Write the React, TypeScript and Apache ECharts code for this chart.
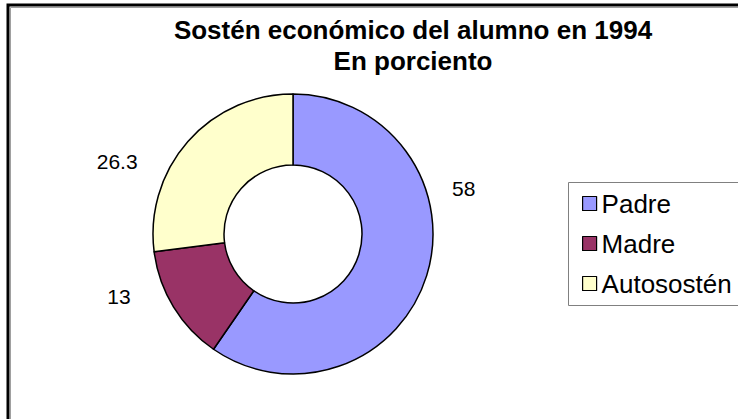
import React, { useEffect, useRef } from "react";
import * as echarts from "echarts";

const titleLines = ["Sostén económico del alumno en 1994", "En porciento"];
const categories = ["Padre", "Madre", "Autosostén"];
const values = [58, 13, 26.3];
const colors = ["#9999FF", "#993366", "#FFFFCC"];

const FONT = "'Liberation Sans', Arial, sans-serif";
// label nudges (style only), relative to ECharts' default outside label position
const labelNudge = [
  { dx: -24, dy: -92 },
  { dx: 5, dy: -18 },
  { dx: -4, dy: 30 },
];

export default function App() {
  const ref = useRef<HTMLDivElement>(null);
  useEffect(() => {
    const chart = echarts.init(ref.current!, null, { renderer: "svg" });
    chart.setOption({
      animation: false,
      backgroundColor: "#ffffff",
      title: {
        text: titleLines.join("\n"),
        left: 408,
        textAlign: "center",
        top: 9,
        textStyle: {
          fontFamily: FONT,
          fontWeight: "bold",
          fontSize: 26,
          lineHeight: 31,
          color: "#000",
        },
      },
      graphic: [
        {
          type: "rect",
          shape: { x: 8, y: 5, width: 800, height: 600 },
          style: { fill: "none", stroke: "#000", lineWidth: 3 },
          silent: true,
        },
        {
          type: "polyline",
          shape: { points: [[10.5, 700], [10.5, 7.5], [800, 7.5]] },
          style: { fill: "none", stroke: "#a0a0a0", lineWidth: 1 },
          silent: true,
        },
        {
          type: "rect",
          shape: { x: 568.5, y: 182.5, width: 200, height: 123 },
          style: { fill: "#fff", stroke: "#808080", lineWidth: 1 },
          silent: true,
          z: 0,
        },
      ],
      legend: {
        orient: "vertical",
        left: 577,
        top: 185,
        itemWidth: 14,
        itemHeight: 14,
        itemGap: 13,
        icon: "rect",
        itemStyle: { borderColor: "#000", borderWidth: 1.2 },
        textStyle: {
          fontFamily: FONT,
          fontSize: 26,
          lineHeight: 27,
          color: "#000",
          padding: [0, 0, 0, 0],
        },
        data: categories,
        z: 5,
      },
      series: [
        {
          type: "pie",
          center: [293, 234],
          radius: [69, 140],
          startAngle: 90,
          clockwise: true,
          avoidLabelOverlap: false,
          itemStyle: { borderColor: "#000", borderWidth: 1.5 },
          label: {
            show: true,
            position: "outside",
            formatter: "{c}",
            fontFamily: FONT,
            fontSize: 21,
            color: "#000",
          },
          labelLine: { show: false },
          labelLayout: (p: any) => labelNudge[p.dataIndex],
          emphasis: { disabled: true },
          data: categories.map((c, i) => ({
            name: c,
            value: values[i],
            itemStyle: { color: colors[i] },
          })),
        },
      ],
    });
    return () => chart.dispose();
  }, []);
  return (
    <div
      ref={ref}
      style={{ position: "fixed", left: 0, top: 0, width: 738, height: 419 }}
    />
  );
}
